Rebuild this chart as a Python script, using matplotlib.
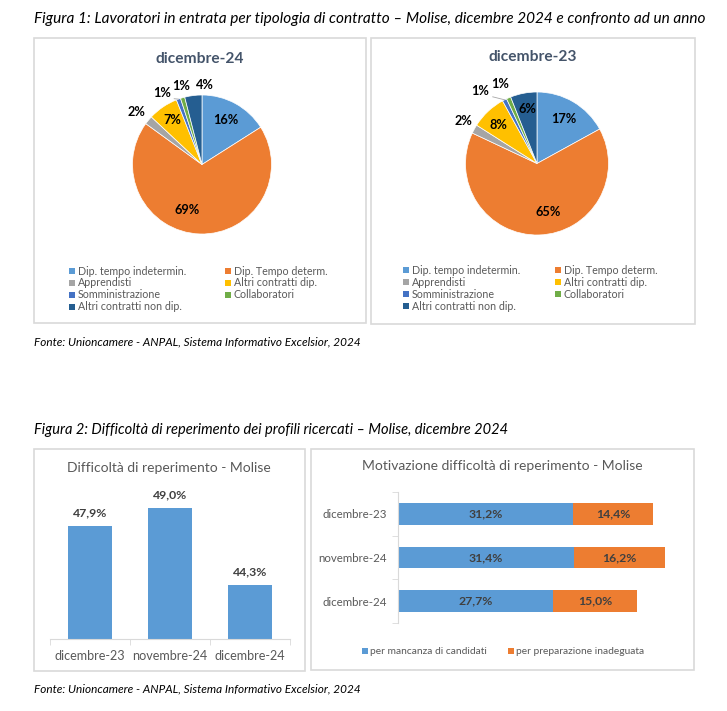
import matplotlib
matplotlib.use('Agg')
import matplotlib.pyplot as plt
from matplotlib.patches import Rectangle
import numpy as np

W, H = 727, 711
plt.rcParams['font.family'] = ['Lato', 'DejaVu Sans']

# ---------------- data ----------------
contract_types = ['Dip. tempo indetermin.', 'Dip. Tempo determ.', 'Apprendisti',
                  'Altri contratti dip.', 'Somministrazione', 'Collaboratori',
                  'Altri contratti non dip.']
pie_dec24 = [16, 69, 2, 7, 1, 1, 4]
pie_dec23 = [17, 65, 2, 8, 1, 1, 6]
pie_titles = ['dicembre-24', 'dicembre-23']

diff_periods = ['dicembre-23', 'novembre-24', 'dicembre-24']
diff_values = [47.9, 49.0, 44.3]

motiv_periods = ['dicembre-23', 'novembre-24', 'dicembre-24']
motiv_candidati = [31.2, 31.4, 27.7]
motiv_preparazione = [14.4, 16.2, 15.0]
motiv_series = ['per mancanza di candidati', 'per preparazione inadeguata']

fig_titles = ['Figura 1: Lavoratori in entrata per tipologia di contratto \u2013 Molise, dicembre 2024 e confronto ad un anno',
              'Figura 2: Difficolt\u00e0 di reperimento dei profili ricercati \u2013 Molise, dicembre 2024']
source = 'Fonte: Unioncamere - ANPAL, Sistema Informativo Excelsior, 2024'
bar_title = 'Difficolt\u00e0 di reperimento - Molise'
stack_title = 'Motivazione difficolt\u00e0 di reperimento - Molise'

# ---------------- style ----------------
pie_colors = ['#5B9BD5', '#ED7D31', '#A5A5A5', '#FFC000', '#4472C4', '#70AD47', '#255E91']
grey_txt = '#595959'
border = '#D9D9D9'

fig = plt.figure(figsize=(W / 100, H / 100), dpi=100)
fig.patch.set_facecolor('white')


def frac(x0, y0, x1, y1):
    return [x0 / W, 1 - y1 / H, (x1 - x0) / W, (y1 - y0) / H]


def fx(x):
    return x / W


def fy(y):
    return 1 - y / H


# panel borders
for (x0, y0, x1, y1) in [(34, 38, 366, 323), (371, 38, 695, 324),
                         (34, 449, 305, 671), (311, 449, 694, 670)]:
    fig.add_artist(Rectangle((fx(x0), fy(y1)), (x1 - x0) / W, (y1 - y0) / H,
                             transform=fig.transFigure, fill=False,
                             edgecolor=border, lw=1.2))

# figure captions
fig.text(fx(34), fy(19), fig_titles[0], style='italic', fontsize=11.1, color='black', va='center')
fig.text(fx(34), fy(430), fig_titles[1], style='italic', fontsize=10.5, color='black', va='center')
fig.text(fx(34), fy(342), source, style='italic', fontsize=8.5, color='black', va='center')
fig.text(fx(34), fy(689), source, style='italic', fontsize=8.5, color='black', va='center')


def draw_pie(values, title, cx, cy, r, title_xy, label_params, leg_x, leg_y0):
    half = r * 1.6
    ax = fig.add_axes(frac(cx - half, cy - half, cx + half, cy + half))
    wedges, _ = ax.pie(values, colors=pie_colors, startangle=90, counterclock=False,
                       radius=1, wedgeprops=dict(edgecolor='white', linewidth=0.5))
    ax.set_xlim(-1.6, 1.6)
    ax.set_ylim(-1.6, 1.6)
    ax.axis('off')
    for i, (w, v, (dist, dang)) in enumerate(zip(wedges, values, label_params)):
        mid = (w.theta1 + w.theta2) / 2
        ang = np.radians(mid + dang)
        x, y = dist * np.cos(ang), dist * np.sin(ang)
        ax.text(x, y, f'{v}%', ha='center', va='center', fontsize=9.2,
                fontweight='bold', color='black')
        if i == 4:  # leader line for the small outside label
            a0 = np.radians(mid)
            ax.plot([1.0 * np.cos(a0), (dist - 0.1) * np.cos(ang) + 0.12],
                    [1.0 * np.sin(a0), (dist - 0.1) * np.sin(ang)],
                    color='#A6A6A6', lw=0.6)
    fig.text(fx(title_xy[0]), fy(title_xy[1]), title, ha='center', va='center',
             fontsize=11.2, fontweight='bold', color='#44546A')
    # legend (row-wise, two columns)
    for i, (name, col) in enumerate(zip(contract_types, pie_colors)):
        row, c = divmod(i, 2)
        mx = leg_x[c]
        my = leg_y0 + row * 12
        fig.add_artist(Rectangle((fx(mx - 3), fy(my + 3)), 6 / W, 6 / H,
                                 transform=fig.transFigure, color=col, lw=0))
        fig.text(fx(mx + 6), fy(my), name, fontsize=7.7, color=grey_txt, va='center')


draw_pie(pie_dec24, pie_titles[0], 202, 164.5, 69.5, (200, 59),
         [(0.73, 0.8), (0.69, -16), (1.2, 1), (0.77, 0), (1.18, 9), (1.17, -1), (1.14, -9)],
         (72, 228), 271)
draw_pie(pie_dec23, pie_titles[1], 537, 163.5, 71.5, (533, 57),
         [(0.73, -0.4), (0.69, 11), (1.19, -0.8), (0.77, 1.8), (1.29, 11.4), (1.22, 1.6), (0.78, -0.5)],
         (406, 558), 270)

# ---------------- bar chart ----------------
ax1 = fig.add_axes(frac(50, 492, 290, 639))
xpos = np.arange(len(diff_values))
bars = ax1.bar(xpos, diff_values, width=0.54, color='#5B9BD5')
ax1.set_xlim(-0.5, 2.5)
ax1.set_ylim(41, 50)
for s in ['top', 'right', 'left']:
    ax1.spines[s].set_visible(False)
ax1.spines['bottom'].set_color(border)
ax1.set_yticks([])
ax1.set_xticks(xpos, diff_periods)
ax1.set_xticks([-0.5, 0.5, 1.5, 2.5], minor=True)
ax1.tick_params(axis='x', which='major', length=0, labelsize=9.1, labelcolor=grey_txt, pad=8)
ax1.tick_params(axis='x', which='minor', length=4, color=border)
for b, v in zip(bars, diff_values):
    ax1.annotate(f'{v:.1f}%'.replace('.', ','), (b.get_x() + b.get_width() / 2, v),
                 xytext=(0, 9.4), textcoords='offset points', ha='center', va='center',
                 fontsize=8.8, fontweight='bold', color='#404040')
fig.text(fx(169), fy(468), bar_title, ha='center', va='center', fontsize=10, color=grey_txt)

# ---------------- stacked horizontal bar ----------------
ax2 = fig.add_axes(frac(398, 492, 678, 623))
ypos = np.arange(len(motiv_periods))
b1 = ax2.barh(ypos, motiv_candidati, height=0.5, color='#5B9BD5')
b2 = ax2.barh(ypos, motiv_preparazione, left=motiv_candidati, height=0.5, color='#ED7D31')
ax2.set_ylim(2.5, -0.5)
ax2.set_xlim(0, 50)
for s in ['top', 'right', 'bottom']:
    ax2.spines[s].set_visible(False)
ax2.spines['left'].set_color(border)
ax2.set_xticks([])
ax2.set_yticks(ypos, motiv_periods)
ax2.set_yticks([-0.5, 0.5, 1.5, 2.5], minor=True)
ax2.tick_params(axis='y', which='major', length=0, labelsize=8.3, labelcolor=grey_txt, pad=8)
ax2.tick_params(axis='y', which='minor', length=4, color=border)
ax2.bar_label(b1, labels=[f'{v:.1f}%'.replace('.', ',') for v in motiv_candidati],
              label_type='center', fontsize=8.8, fontweight='bold', color='#404040')
ax2.bar_label(b2, labels=[f'{v:.1f}%'.replace('.', ',') for v in motiv_preparazione],
              label_type='center', fontsize=8.8, fontweight='bold', color='#404040')
fig.text(fx(502), fy(466), stack_title, ha='center', va='center', fontsize=10, color=grey_txt)
for name, col, mx in zip(motiv_series, ['#5B9BD5', '#ED7D31'], (365, 511)):
    fig.add_artist(Rectangle((fx(mx - 3), fy(651 + 3)), 6 / W, 6 / H,
                             transform=fig.transFigure, color=col, lw=0))
    fig.text(fx(mx + 5), fy(651), name, fontsize=7.4, color=grey_txt, va='center')

fig.savefig('out.png', dpi=100, facecolor='white')
